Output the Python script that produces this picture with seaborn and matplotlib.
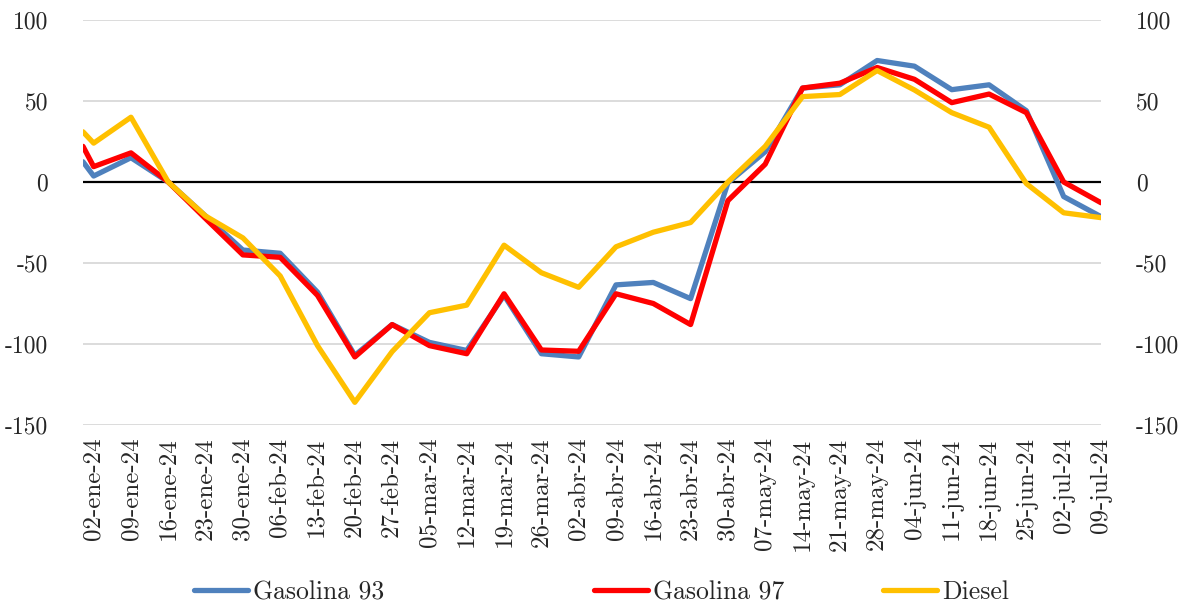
import pandas as pd
import matplotlib
matplotlib.use('Agg')
import matplotlib.pyplot as plt
import matplotlib.dates as mdates
import seaborn as sns

# %%
# Data (weekly, plus one point just before the first label)
fechas = [
    '2023-12-31', '2024-01-02', '2024-01-09', '2024-01-16', '2024-01-23', '2024-01-30',
    '2024-02-06', '2024-02-13', '2024-02-20', '2024-02-27', '2024-03-05', '2024-03-12',
    '2024-03-19', '2024-03-26', '2024-04-02', '2024-04-09', '2024-04-16', '2024-04-23',
    '2024-04-30', '2024-05-07', '2024-05-14', '2024-05-21', '2024-05-28', '2024-06-04',
    '2024-06-11', '2024-06-18', '2024-06-25', '2024-07-02', '2024-07-09',
]
gasolina_93 = [12.5, 3.7, 15, 0, -21, -42, -44, -68, -107, -88, -99, -104, -70, -106, -108,
               -63.5, -62, -72, -0.5, 18.7, 58, 60, 75, 71.5, 57, 60, 44, -9, -21.4]
gasolina_97 = [22, 9.5, 18, 0, -22.6, -45, -46.5, -70, -108, -88, -101, -106, -69, -103.7, -104.5,
               -69, -75, -88, -11.5, 11, 58, 61, 70.7, 63.4, 49, 54.3, 42.8, 0, -12.8]
diesel = [31, 24, 40, 0, -21, -34.5, -58, -101, -136, -104.7, -80.7, -76, -39, -56, -65,
          -40, -31, -25, 0, 22, 52.7, 54, 68.8, 56.8, 42.8, 33.8, -1, -19, -22]

tick_fechas = fechas[1:]
tick_labels = [
    '02-ene-24', '09-ene-24', '16-ene-24', '23-ene-24', '30-ene-24', '06-feb-24', '13-feb-24',
    '20-feb-24', '27-feb-24', '05-mar-24', '12-mar-24', '19-mar-24', '26-mar-24', '02-abr-24',
    '09-abr-24', '16-abr-24', '23-abr-24', '30-abr-24', '07-may-24', '14-may-24', '21-may-24',
    '28-may-24', '04-jun-24', '11-jun-24', '18-jun-24', '25-jun-24', '02-jul-24', '09-jul-24',
]
y_ticks = [100, 50, 0, -50, -100, -150]

series = {'Gasolina 93': gasolina_93, 'Gasolina 97': gasolina_97, 'Diesel': diesel}
palette = {'Gasolina 93': '#4F81BD', 'Gasolina 97': '#FF0000', 'Diesel': '#FFC000'}

df = pd.concat(
    [pd.DataFrame({'fecha': pd.to_datetime(fechas), 'valor': vals, 'serie': name})
     for name, vals in series.items()],
    ignore_index=True
)

# %%
sns.set_theme(style='white')
plt.rcParams['font.family'] = ['cmr10', 'DejaVu Serif']
plt.rcParams['axes.unicode_minus'] = False
fs = 17.5

fig = plt.figure(figsize=(11.84, 6.03), dpi=100)
ax = fig.add_axes([0.0701, 0.2952, 0.8598, 0.6716])

ax.axhline(0, color='black', lw=1.6, zorder=2)
sns.lineplot(data=df, x='fecha', y='valor', hue='serie', palette=palette,
             linewidth=3.8, legend=False, ax=ax, zorder=3)

ax.set_ylim(-150, 100)
ax.set_xlim(pd.to_datetime(fechas[0]), pd.to_datetime(fechas[-1]))
ax.set_yticks(y_ticks)
ax.set_yticklabels([str(v) for v in y_ticks], fontsize=17)
ax.set_xticks(mdates.date2num(pd.to_datetime(tick_fechas)))
ax.set_xticklabels(tick_labels, rotation=90, fontsize=18, ha='center', va='top')
ax.tick_params(axis='y', left=False, right=False, labelleft=True, labelright=True, pad=19)
ax.tick_params(axis='x', bottom=False, pad=3)
ax.yaxis.grid(True, color='#D9D9D9', lw=1.3)
ax.xaxis.grid(False)
ax.set_xlabel('')
ax.set_ylabel('')
sns.despine(ax=ax, left=True, bottom=True)

# Legend entries spaced like the original
legend_x = [0.164, 0.502, 0.746]
for (name, _), lx in zip(series.items(), legend_x):
    h = plt.Line2D([], [], color=palette[name], lw=3.8)
    fig.legend([h], [name], loc='center left', bbox_to_anchor=(lx, 0.018),
               frameon=False, fontsize=18.5, handlelength=2.1, handletextpad=0.2,
               borderpad=0, borderaxespad=0)

fig.savefig('out.png', dpi=100)
